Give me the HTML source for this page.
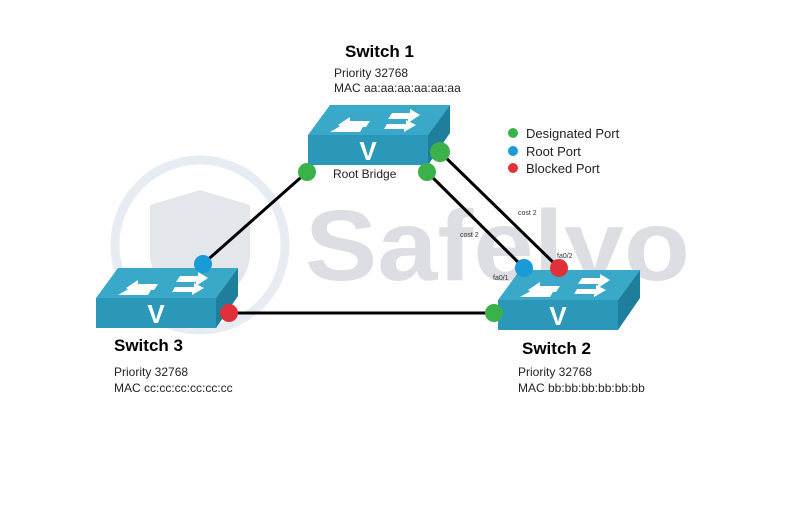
<!DOCTYPE html>
<html><head><style>
body{margin:0;width:800px;height:500px;background:#fff;overflow:hidden;font-family:"Liberation Sans",sans-serif}
</style></head><body>
<svg width="800" height="500" viewBox="0 0 800 500" xmlns="http://www.w3.org/2000/svg" font-family="Liberation Sans, sans-serif">
<defs>
<g id="sw">
<polygon points="22,0 142,0 120,30 0,30" fill="#3aa8c8"/>
<polygon points="120,30 142,0 142,28 120,60" fill="#1d7f9c"/>
<rect x="0" y="30" width="120" height="30" fill="#2b98b9"/>
<g fill="#fff">
<polygon points="30,20 42,12 42,16 62,16 58,22 40,22 40,26"/>
<polygon points="112,10 100,18 100,14 80,14 84,8 102,8 102,4"/>
<polygon points="108,20 96,27 96,24 76,24 79,19 98,19 98,15"/>
<polygon points="22,27 36,19 36,22 55,22 52,27"/>
</g>
<text x="60" y="55" text-anchor="middle" font-size="26" font-weight="bold" fill="#fff">V</text>
</g>
</defs>
<!-- watermark -->
<circle cx="200" cy="245" r="85" fill="none" stroke="#e6ecf2" stroke-width="9"/>
<path d="M150 205 L200 190 L250 205 L250 258 Q245 292 200 310 Q155 292 150 258 Z" fill="#e3e6ea"/>
<text x="305" y="280" font-size="100" font-weight="bold" fill="#dcdee4" textLength="385" lengthAdjust="spacingAndGlyphs">Safelyo</text>
<!-- links -->
<g stroke="#000" stroke-width="3">
<line x1="307" y1="172" x2="203" y2="264"/>
<line x1="229" y1="313" x2="494" y2="313"/>
<line x1="427" y1="172" x2="524" y2="268"/>
<line x1="440" y1="152" x2="559" y2="268"/>
</g>
<use href="#sw" x="308" y="105"/>
<use href="#sw" x="96" y="268"/>
<use href="#sw" x="498" y="270"/>
<!-- dots -->
<circle cx="307" cy="172" r="9" fill="#3bb14a"/>
<circle cx="427" cy="172" r="9" fill="#3bb14a"/>
<circle cx="440" cy="152" r="10" fill="#3bb14a"/>
<circle cx="203" cy="264" r="9" fill="#1a9ad6"/>
<circle cx="229" cy="313" r="9" fill="#e0313a"/>
<circle cx="494" cy="313" r="9" fill="#3bb14a"/>
<circle cx="524" cy="268" r="9" fill="#1a9ad6"/>
<circle cx="559" cy="268" r="9" fill="#e0313a"/>
<circle cx="513" cy="133" r="5" fill="#3bb14a"/>
<circle cx="513" cy="151" r="5" fill="#1a9ad6"/>
<circle cx="513" cy="168" r="5" fill="#e0313a"/>
<g font-size="13" fill="#222">
<text x="526" y="138">Designated Port</text>
<text x="526" y="156">Root Port</text>
<text x="526" y="173">Blocked Port</text>
<text x="333" y="178" font-size="12">Root Bridge</text>
<text x="334" y="77" font-size="12">Priority 32768</text>
<text x="334" y="92" font-size="12">MAC aa:aa:aa:aa:aa:aa</text>
<text x="114" y="376" font-size="12">Priority 32768</text>
<text x="114" y="392" font-size="12">MAC cc:cc:cc:cc:cc:cc</text>
<text x="518" y="376" font-size="12">Priority 32768</text>
<text x="518" y="392" font-size="12">MAC bb:bb:bb:bb:bb:bb</text>
</g>
<g font-size="17" font-weight="bold" fill="#000">
<text x="345" y="57">Switch 1</text>
<text x="114" y="351">Switch 3</text>
<text x="522" y="354">Switch 2</text>
</g>
<g font-size="7" fill="#333">
<text x="518" y="215">cost 2</text>
<text x="460" y="237">cost 2</text>
<text x="557" y="258">fa0/2</text>
<text x="493" y="280">fa0/1</text>
</g>
</svg>
</body></html>
